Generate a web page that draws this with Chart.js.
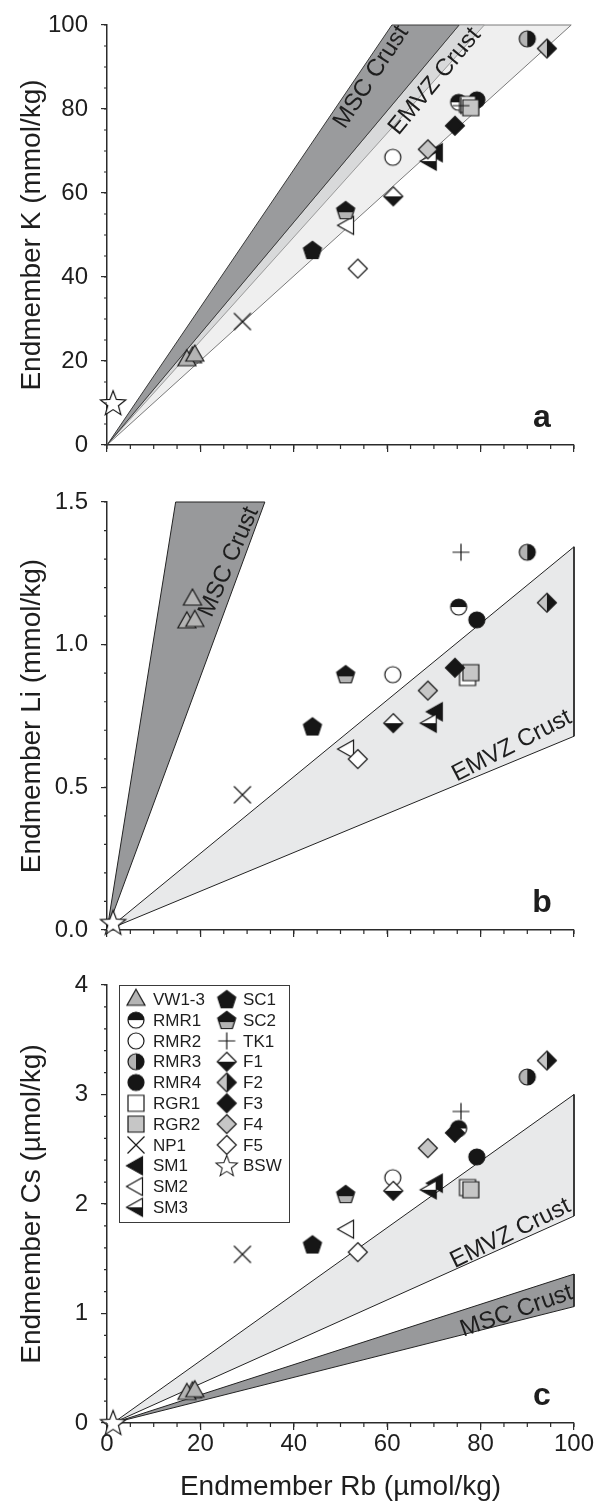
<!DOCTYPE html>
<html>
<head>
<meta charset="utf-8">
<script src="https://cdn.jsdelivr.net/npm/chart.js@4.4.1/dist/chart.umd.min.js"></script>
<style>
  body { margin: 0; background: #fff; }
  #wrap { position: relative; width: 603px; height: 1504px; }
  canvas { position: absolute; left: 0; }
</style>
</head>
<body>
<div id="wrap">
  <canvas id="chartA" width="603" height="470" style="top:0px"></canvas>
  <canvas id="chartB" width="603" height="485" style="top:470px"></canvas>
  <canvas id="chartC" width="603" height="549" style="top:955px"></canvas>
</div>
<script>
// samples, in legend order
const samples = ['VW1-3', 'RMR1', 'RMR2', 'RMR3', 'RMR4', 'RGR1', 'RGR2', 'NP1', 'SM1', 'SM2', 'SM3',
                 'SC1', 'SC2', 'TK1', 'F1', 'F2', 'F3', 'F4', 'F5', 'BSW'];

// endmember Rb (umol/kg); VW1-3 holds three vents
const rb = [[18.3, 17.1, 18.8], [75.3], [61.2], [90.0], [79.2], [77.2], [77.9], [29.0], [70.4], [51.4], [69.1],
            [44.0], [51.1], [75.8], [61.3], [94.2], [74.5], [68.7], [53.7], [1.3]];
// endmember K (mmol/kg)
const k = [[21.0, 20.3, 21.4], [81.6], [68.5], [96.7], [82.2], [81.1], [80.3], [29.4], [69.6], [52.3], [67.6],
           [46.4], [55.9], [80.8], [59.2], [94.4], [76.0], [70.4], [42.0], [10.0]];
// endmember Li (mmol/kg)
const li = [[1.16, 1.08, 1.085], [1.132], [0.895], [1.324], [1.087], [0.885], [0.902], [0.474], [0.765], [0.634], [0.725],
            [0.713], [0.896], [1.324], [0.725], [1.147], [0.919], [0.839], [0.599], [0.026]];
// endmember Cs (umol/kg)
const cs = [[0.285, 0.27, 0.295], [2.69], [2.24], [3.16], [2.43], [2.15], [2.13], [1.54], [2.19], [1.77], [2.13],
            [1.63], [2.09], [2.845], [2.12], [3.31], [2.65], [2.51], [1.56], [0.0023]];

// crust mixing fields [Rb, element]
const mscK = [[0, 0], [61.0, 100], [75.4, 100]];
const emvzK = [[0, 0], [75.4, 100], [99.4, 100]];
const emvzKInner = [[0, 0], [75.4, 100], [80.8, 100]];
const mscLi = [[0, 0], [14.7, 1.5], [33.8, 1.5]];
const emvzLi = [[0, 0], [100, 1.343], [100, 0.679]];
const emvzCs = [[1.3, 0], [100, 3.0], [100, 1.89]];
const mscCs = [[1.3, 0], [100, 1.36], [100, 1.063]];

// legend columns
const legendCols = [samples.slice(0, 11), samples.slice(11)];

const AXIS = '#2b2b2b';
const INK = '#1e1e1e';
const FONT = "'Liberation Sans', Arial, sans-serif";
const BLACK = '#161616', GRAY = '#b4b4b4', LGRAY = '#c6c6c6', WHITE = '#ffffff';

const markerStyle = {
  'VW1-3': { shape: 'triUp', fill: GRAY },
  'RMR1': { shape: 'circle', fill: BLACK, fill2: WHITE, split: 'h' },
  'RMR2': { shape: 'circle', fill: WHITE },
  'RMR3': { shape: 'circle', fill: GRAY, fill2: BLACK, split: 'v' },
  'RMR4': { shape: 'circle', fill: BLACK },
  'RGR1': { shape: 'square', fill: WHITE },
  'RGR2': { shape: 'square', fill: LGRAY },
  'NP1': { shape: 'cross' },
  'SM1': { shape: 'triLeft', fill: BLACK },
  'SM2': { shape: 'triLeft', fill: WHITE },
  'SM3': { shape: 'triLeft', fill: WHITE, fill2: BLACK, split: 'h' },
  'SC1': { shape: 'pentagon', fill: BLACK },
  'SC2': { shape: 'pentagon', fill: BLACK, fill2: GRAY, split: 'h', cut: 2 },
  'TK1': { shape: 'plus' },
  'F1': { shape: 'diamond', fill: WHITE, fill2: BLACK, split: 'h' },
  'F2': { shape: 'diamond', fill: LGRAY, fill2: BLACK, split: 'v' },
  'F3': { shape: 'diamond', fill: BLACK },
  'F4': { shape: 'diamond', fill: LGRAY },
  'F5': { shape: 'diamond', fill: WHITE },
  'BSW': { shape: 'star', fill: WHITE }
};

function poly(p, pts) {
  p.moveTo(pts[0][0], pts[0][1]);
  for (let i = 1; i < pts.length; i++) p.lineTo(pts[i][0], pts[i][1]);
  p.closePath();
}

function makeMarker(m) {
  const S = 34;
  const c = document.createElement('canvas');
  c.width = S; c.height = S;
  const g = c.getContext('2d');
  g.translate(S / 2, S / 2);
  g.lineWidth = 1.2;
  g.strokeStyle = BLACK;
  const p = new Path2D();
  if (m.shape === 'circle') p.arc(0, 0, 8, 0, Math.PI * 2);
  if (m.shape === 'square') p.rect(-8, -8, 16, 16);
  if (m.shape === 'diamond') poly(p, [[0, -9.5], [9.5, 0], [0, 9.5], [-9.5, 0]]);
  if (m.shape === 'triUp') poly(p, [[0, -10], [9, 6], [-9, 6]]);
  if (m.shape === 'triLeft') poly(p, [[-9.5, 0], [6.5, -9], [6.5, 9]]);
  if (m.shape === 'pentagon') {
    const pts = [];
    for (let i = 0; i < 5; i++) {
      const a = -Math.PI / 2 + i * 2 * Math.PI / 5;
      pts.push([9.5 * Math.cos(a), 9.5 * Math.sin(a) + 0.8]);
    }
    poly(p, pts);
  }
  if (m.shape === 'star') {
    const pts = [];
    for (let i = 0; i < 10; i++) {
      const a = -Math.PI / 2 + i * Math.PI / 5;
      const r = i % 2 ? 5.6 : 13.2;
      pts.push([r * Math.cos(a), r * Math.sin(a) + 1]);
    }
    poly(p, pts);
  }
  if (m.shape === 'cross') {
    p.moveTo(-8.5, -8.5); p.lineTo(8.5, 8.5); p.moveTo(-8.5, 8.5); p.lineTo(8.5, -8.5);
    g.stroke(p);
    return c;
  }
  if (m.shape === 'plus') {
    p.moveTo(-8.5, 0); p.lineTo(8.5, 0); p.moveTo(0, -8.5); p.lineTo(0, 8.5);
    g.stroke(p);
    return c;
  }
  g.fillStyle = m.fill;
  g.fill(p);
  if (m.fill2) {
    g.save();
    g.clip(p);
    g.fillStyle = m.fill2;
    if (m.split === 'h') g.fillRect(-S / 2, m.cut || 0, S, S);
    else g.fillRect(0, -S / 2, S, S);
    g.restore();
  }
  g.stroke(p);
  return c;
}

const markerImg = {};
samples.forEach(s => { markerImg[s] = makeMarker(markerStyle[s]); });

function pointSets(ys) {
  return samples.map((s, i) => ({
    label: s,
    data: rb[i].map((x, j) => ({ x: x, y: ys[i][j] })),
    pointStyle: markerImg[s],
    pointRadius: 8,
    clip: false,
    order: samples.length - i
  }));
}

function wedge(pts, fill, stroke, order) {
  const closed = pts.concat([pts[0]]);
  return {
    type: 'line',
    label: '',
    data: closed.map(p => ({ x: p[0], y: p[1] })),
    fill: 'shape',
    backgroundColor: fill,
    borderColor: stroke,
    borderWidth: 1,
    pointRadius: 0,
    tension: 0,
    clip: false,
    order: order
  };
}

function minorTicks(xStep, yStep) {
  return {
    id: 'minorTicks',
    afterDraw(chart) {
      const { ctx, chartArea: a } = chart;
      const x = chart.scales.x, y = chart.scales.y;
      ctx.save();
      ctx.strokeStyle = AXIS;
      ctx.lineWidth = 1.2;
      ctx.beginPath();
      for (let i = 0; i * xStep <= x.max + 1e-9; i++) {
        const px = x.getPixelForValue(i * xStep);
        ctx.moveTo(px, a.bottom); ctx.lineTo(px, a.bottom + 4);
      }
      for (let i = 0; i * yStep <= y.max + 1e-9; i++) {
        const py = y.getPixelForValue(i * yStep);
        ctx.moveTo(a.left, py); ctx.lineTo(a.left - 3, py);
      }
      ctx.stroke();
      ctx.restore();
    }
  };
}

function panelText(letter, labels) {
  return {
    id: 'panelText',
    afterDatasetsDraw(chart) {
      const { ctx, chartArea: a } = chart;
      const x = chart.scales.x, y = chart.scales.y;
      ctx.save();
      ctx.fillStyle = INK;
      ctx.textAlign = 'center';
      ctx.textBaseline = 'alphabetic';
      ctx.font = 'bold 32px ' + FONT;
      ctx.fillText(letter, a.right - 32, a.bottom - 18);
      ctx.font = '24px ' + FONT;
      ctx.textBaseline = 'middle';
      labels.forEach(l => {
        ctx.save();
        ctx.translate(x.getPixelForValue(l.x), y.getPixelForValue(l.y));
        ctx.rotate(l.angle * Math.PI / 180);
        ctx.fillText(l.text, 0, 0);
        ctx.restore();
      });
      ctx.restore();
    }
  };
}

const legendBox = {
  id: 'legendBox',
  afterDatasetsDraw(chart) {
    const { ctx, chartArea: a } = chart;
    const bx = a.left + 12, by = a.top, bw = 170, bh = 237;
    ctx.save();
    ctx.fillStyle = '#fff';
    ctx.fillRect(bx, by, bw, bh);
    ctx.strokeStyle = '#3a3a3a';
    ctx.lineWidth = 1;
    ctx.strokeRect(bx + 0.5, by + 0.5, bw, bh);
    ctx.font = '17px ' + FONT;
    ctx.fillStyle = INK;
    ctx.textAlign = 'left';
    ctx.textBaseline = 'middle';
    const mx = [bx + 17, bx + 107.7], tx = [bx + 34, bx + 124];
    legendCols.forEach((col, c) => {
      col.forEach((s, r) => {
        const cy = by + 14.3 + r * 20.8;
        const img = markerImg[s];
        const f = s === 'BSW' ? 0.85 : 1;
        ctx.drawImage(img, mx[c] - img.width * f / 2, cy - img.height * f / 2, img.width * f, img.height * f);
        ctx.fillText(s, tx[c], cy + 1);
      });
    });
    ctx.restore();
  }
};

function makeChart(id, cfg) {
  return new Chart(document.getElementById(id), {
    type: 'scatter',
    data: { datasets: pointSets(cfg.ys).concat(cfg.wedges) },
    options: {
      responsive: false,
      animation: false,
      devicePixelRatio: 1,
      events: [],
      layout: { padding: { top: cfg.padTop, right: 29, left: 0, bottom: 0 } },
      plugins: { legend: { display: false }, tooltip: { enabled: false } },
      scales: {
        x: {
          type: 'linear', min: 0, max: 100, position: 'bottom',
          border: { color: AXIS, width: 1.5 },
          grid: { drawOnChartArea: false, color: AXIS, tickLength: 7, lineWidth: 1.2 },
          ticks: { display: cfg.showX, stepSize: 20, color: INK, padding: 0, maxRotation: 0,
                   font: { family: FONT, size: 24 } },
          title: { display: cfg.showX, text: 'Endmember Rb (µmol/kg)', color: INK,
                   font: { family: FONT, size: 28 }, padding: { top: 0, bottom: 0 } },
          afterFit: s => { s.height = cfg.xHeight; }
        },
        y: {
          type: 'linear', min: 0, max: cfg.yMax,
          border: { color: AXIS, width: 1.5 },
          grid: { drawOnChartArea: false, color: AXIS, tickLength: 6, lineWidth: 1.2 },
          ticks: { stepSize: cfg.yStep, color: INK, padding: 13, callback: cfg.fmt,
                   font: { family: FONT, size: 24, lineHeight: 1 } },
          title: { display: true, text: cfg.yTitle, color: INK,
                   font: { family: FONT, size: 28 }, padding: { top: 15, bottom: 0 } },
          afterFit: s => { s.width = 107; }
        }
      }
    },
    plugins: [minorTicks(5, cfg.yMinor), panelText(cfg.letter, cfg.labels)].concat(cfg.extra || [])
  });
}

makeChart('chartA', {
  ys: k, yMax: 100, yStep: 20, yMinor: 5, fmt: v => v,
  yTitle: 'Endmember K (mmol/kg)', padTop: 19, xHeight: 14, showX: false, letter: 'a',
  wedges: [
    wedge(emvzK, '#efefef', '#7a7a7a', 103),
    wedge(emvzKInner, '#d8d9da', '#9a9a9a', 102),
    wedge(mscK, '#9a9b9d', '#3a3a3a', 101)
  ],
  labels: [
    { text: 'MSC Crust', x: 56.6, y: 87.6, angle: -56.8 },
    { text: 'EMVZ Crust', x: 70.2, y: 86.6, angle: -50.6 }
  ]
});

makeChart('chartB', {
  ys: li, yMax: 1.5, yStep: 0.5, yMinor: 0.1, fmt: v => v.toFixed(1),
  yTitle: 'Endmember Li (mmol/kg)', padTop: 32, xHeight: 15, showX: false, letter: 'b',
  wedges: [
    wedge(emvzLi, '#e8e9ea', '#222222', 102),
    wedge(mscLi, '#98999b', '#222222', 101)
  ],
  labels: [
    { text: 'MSC Crust', x: 26.1, y: 1.29, angle: -66.4 },
    { text: 'EMVZ Crust', x: 86.7, y: 0.645, angle: -27.2 }
  ]
});

makeChart('chartC', {
  ys: cs, yMax: 4, yStep: 1, yMinor: 0.2, fmt: v => v,
  yTitle: 'Endmember Cs (µmol/kg)', padTop: 30, xHeight: 81, showX: true, letter: 'c',
  wedges: [
    wedge(emvzCs, '#e8e9ea', '#222222', 102),
    wedge(mscCs, '#98999b', '#222222', 101)
  ],
  labels: [
    { text: 'EMVZ Crust', x: 86.4, y: 1.73, angle: -26.2 },
    { text: 'MSC Crust', x: 87.7, y: 1.02, angle: -19.2 }
  ],
  extra: [legendBox]
});
</script>
</body>
</html>
